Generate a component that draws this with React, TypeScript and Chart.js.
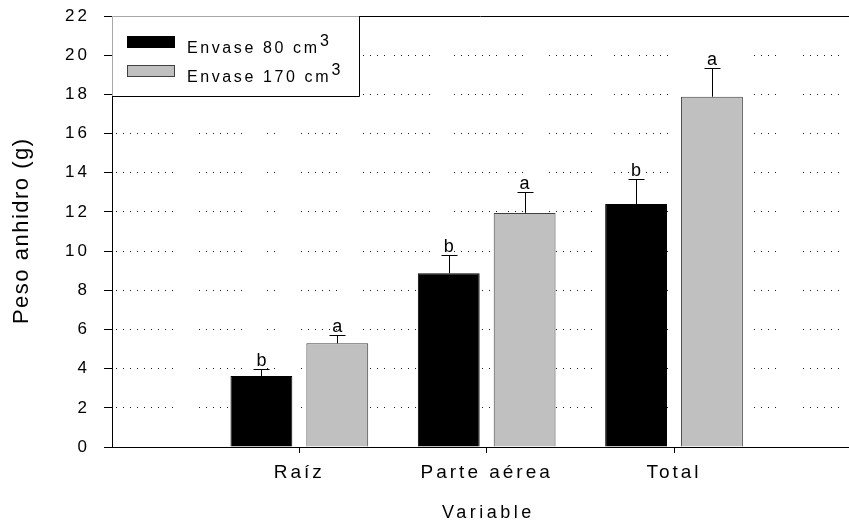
import React, { useEffect, useRef } from 'react';
import { Chart, registerables } from 'chart.js';

Chart.register(...registerables);

// ---------- data ----------
const categories = ['Raíz', 'Parte aérea', 'Total'];
const seriesLabels = ['Envase 80 cm³', 'Envase 170 cm³'];
const means80 = [3.62, 8.87, 12.4];
const means170 = [5.29, 11.95, 17.88];
const err80 = [0.36, 0.93, 1.3];
const err170 = [0.43, 1.07, 1.48];
const letters80 = ['b', 'b', 'b'];
const letters170 = ['a', 'a', 'a'];
const yTicks = [0, 2, 4, 6, 8, 10, 12, 14, 16, 18, 20, 22];
const yTitle = 'Peso anhidro (g)';
const xTitle = 'Variable';

// ---------- style ----------
const FONT = "'Liberation Sans', Arial, Helvetica, sans-serif";

// broken dotted grid pattern: [offset of first dot from axis, number of dots]
const dotGroups = [
  [3, 9], [86, 7], [154, 2], [188, 6], [250, 4], [281, 6], [341, 7],
  [395, 3], [436, 7], [501, 3], [526, 5], [641, 4], [690, 6],
];
const DOT_STEP = 7;
function buildDash() {
  const arr: number[] = [0];
  let pos = 0;
  dotGroups.forEach(([start, n]) => {
    for (let k = 0; k < n; k++) {
      const dx = start + k * DOT_STEP;
      arr.push(dx - pos);
      arr.push(1);
      pos = dx + 1;
    }
  });
  arr.push(3000);
  return arr;
}
const gridDash = buildDash();

function spacedText(ctx: CanvasRenderingContext2D, text: string, x: number, y: number, spacing: number) {
  (ctx as any).letterSpacing = spacing + 'px';
  const align = ctx.textAlign;
  let dx = 0;
  if (align === 'center') dx = spacing / 2;
  else if (align === 'right' || align === 'end') dx = spacing;
  ctx.fillText(text, x + dx, y);
}

const spacingPlugin = {
  id: 'spacingPlugin',
  beforeDraw(chart: any) {
    (chart.ctx as any).letterSpacing = '3px';
  },
};

const errorBarPlugin = {
  id: 'errorBarPlugin',
  afterDatasetsDraw(chart: any) {
    const ctx = chart.ctx as CanvasRenderingContext2D;
    const yScale = chart.scales.y;
    ctx.save();
    chart.data.datasets.forEach((ds: any, di: number) => {
      const meta = chart.getDatasetMeta(di);
      meta.data.forEach((el: any, i: number) => {
        const v = ds.data[i].y;
        const e = ds.errors[i];
        const x = Math.round(el.x) + 0.5;
        const yTop = el.y;
        const yCap = Math.round(yScale.getPixelForValue(v + e)) + 0.5;
        ctx.strokeStyle = '#000';
        ctx.lineWidth = 1;
        ctx.setLineDash([]);
        ctx.beginPath();
        ctx.moveTo(x, yTop);
        ctx.lineTo(x, yCap);
        ctx.moveTo(x - 8, yCap);
        ctx.lineTo(x + 8, yCap);
        ctx.stroke();
        ctx.fillStyle = '#000';
        ctx.font = `18px ${FONT}`;
        ctx.textAlign = 'center';
        ctx.textBaseline = 'alphabetic';
        spacedText(ctx, ds.letters[i], el.x, yCap - 4, 0);
      });
    });
    ctx.restore();
  },
};

const framePlugin = {
  id: 'framePlugin',
  afterDraw(chart: any) {
    const ctx = chart.ctx as CanvasRenderingContext2D;
    const { left, top, right, bottom } = chart.chartArea;
    ctx.save();
    ctx.setLineDash([]);
    // top frame line
    ctx.strokeStyle = '#000';
    ctx.lineWidth = 1;
    ctx.beginPath();
    ctx.moveTo(left, top + 0.5);
    ctx.lineTo(right, top + 0.5);
    ctx.stroke();

    // legend box
    const w = 248;
    const h = 81;
    ctx.fillStyle = '#fff';
    ctx.fillRect(left, top, w, h);
    ctx.strokeStyle = '#a8a8a8';
    ctx.beginPath();
    ctx.moveTo(left + 0.5, top + h);
    ctx.lineTo(left + 0.5, top + 0.5);
    ctx.lineTo(left + w, top + 0.5);
    ctx.stroke();
    ctx.strokeStyle = '#000';
    ctx.beginPath();
    ctx.moveTo(left + w - 0.5, top);
    ctx.lineTo(left + w - 0.5, top + h - 0.5);
    ctx.lineTo(left, top + h - 0.5);
    ctx.stroke();

    chart.data.datasets.forEach((ds: any, i: number) => {
      const sy = top + 20 + i * 29;
      const sx = left + 15;
      ctx.fillStyle = ds.backgroundColor;
      ctx.fillRect(sx, sy, 48, 12);
      ctx.strokeStyle = ds.borderColor;
      ctx.strokeRect(sx + 0.5, sy + 0.5, 47, 11);
      ctx.fillStyle = '#000';
      ctx.font = `16px ${FONT}`;
      ctx.textAlign = 'left';
      ctx.textBaseline = 'alphabetic';
      const label: string = ds.label;
      const sup = label.endsWith('³');
      const base = sup ? label.slice(0, -1) : label;
      const tx = left + 75;
      const ty = sy + 16.5;
      spacedText(ctx, base, tx, ty, 2.6);
      if (sup) {
        const wBase = ctx.measureText(base).width;
        (ctx as any).letterSpacing = '0px';
        ctx.fillText('3', tx + wBase + 0.5, ty - 7);
      }
    });

    // axis titles
    ctx.fillStyle = '#000';
    ctx.font = `22px ${FONT}`;
    ctx.textAlign = 'center';
    ctx.textBaseline = 'middle';
    ctx.save();
    ctx.translate(22, (top + bottom) / 2);
    ctx.rotate(-Math.PI / 2);
    spacedText(ctx, yTitle, 0, 0, 1.5);
    ctx.restore();

    const xs = chart.scales.x;
    ctx.font = `18px ${FONT}`;
    ctx.textBaseline = 'alphabetic';
    spacedText(ctx, xTitle, xs.getPixelForValue((categories.length + 1) / 2), 518, 3.5);
    ctx.restore();
  },
};

export default function App() {
  const ref = useRef<HTMLCanvasElement | null>(null);
  useEffect(() => {
    if (!ref.current) return;
    const chart = new Chart(ref.current, {
      type: 'bar',
      data: {
        datasets: [
          {
            label: seriesLabels[0],
            data: means80.map((v, i) => ({ x: i + 1, y: v })),
            errors: err80,
            letters: letters80,
            backgroundColor: '#000000',
            borderColor: '#000000',
            borderWidth: 1,
            categoryPercentage: 0.81,
            barPercentage: 0.815,
          } as any,
          {
            label: seriesLabels[1],
            data: means170.map((v, i) => ({ x: i + 1, y: v })),
            errors: err170,
            letters: letters170,
            backgroundColor: '#c0c0c0',
            borderColor: '#404040',
            borderWidth: 1,
            categoryPercentage: 0.81,
            barPercentage: 0.815,
          } as any,
        ],
      },
      options: {
        responsive: false,
        animation: false,
        events: [],
        layout: { padding: { top: 16, left: 0, right: 0, bottom: 0 } },
        plugins: { legend: { display: false }, tooltip: { enabled: false } },
        scales: {
          x: {
            type: 'linear',
            min: 0,
            max: categories.length + 0.934,
            offset: false,
            afterBuildTicks: (s: any) => {
              s.ticks = categories.map((_, i) => ({ value: i + 1 }));
            },
            afterFit: (s: any) => {
              s.height = 76;
              s.paddingLeft = 0;
              s.paddingRight = 0;
            },
            ticks: {
              color: '#000',
              font: { family: FONT, size: 19 },
              padding: 8,
              maxRotation: 0,
              autoSkip: false,
              callback: (v: any) => categories[Number(v) - 1] ?? '',
            },
            grid: {
              offset: false,
              drawOnChartArea: false,
              drawTicks: true,
              tickLength: 6,
              tickColor: '#000',
              color: '#000',
            },
            border: { display: true, color: '#000', width: 1 },
          },
          y: {
            type: 'linear',
            min: 0,
            max: 22,
            afterBuildTicks: (s: any) => {
              s.ticks = yTicks.map((v) => ({ value: v }));
            },
            afterFit: (s: any) => {
              s.width = 112;
              s.paddingTop = 0;
              s.paddingBottom = 0;
            },
            ticks: { color: '#000', font: { family: FONT, size: 17 }, padding: 14 },
            grid: {
              color: (c: any) =>
                c.tick && (c.tick.value === yTicks[0] || c.tick.value === yTicks[yTicks.length - 1])
                  ? 'rgba(0,0,0,0)'
                  : '#1a1a1a',
              lineWidth: 1,
              drawTicks: true,
              tickLength: 8,
              tickColor: '#000',
            },
            border: { display: true, color: '#000', width: 1, dash: gridDash },
          },
        },
      } as any,
      plugins: [spacingPlugin, errorBarPlugin, framePlugin],
    });
    return () => chart.destroy();
  }, []);
  return (
    <div style={{ position: 'fixed', left: 0, top: 0, width: 849, height: 523, background: '#fff' }}>
      <canvas ref={ref} width={849} height={523} style={{ display: 'block' }} />
    </div>
  );
}
